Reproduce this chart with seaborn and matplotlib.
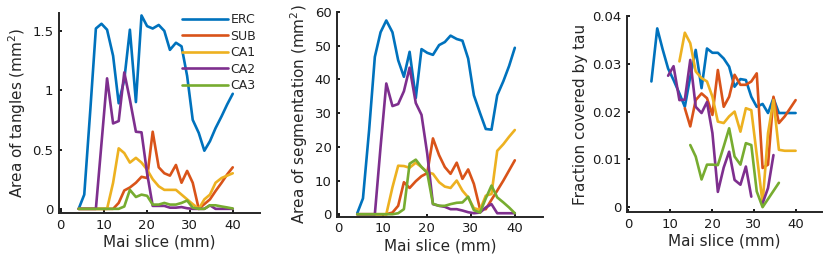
import matplotlib
matplotlib.use('Agg')
import matplotlib.pyplot as plt
import numpy as np
import pandas as pd
import seaborn as sns

nan = np.nan

# 슬라이스 위치 (mm)
slice_mm = [4.2, 5.5, 6.9, 8.2, 9.5, 10.8, 12.2, 13.5, 14.8, 16.1, 17.5, 18.8, 20.1, 21.4,
            22.8, 24.1, 25.4, 26.8, 28.1, 29.4, 30.7, 32.1, 33.4, 34.7, 36.0, 37.4, 38.7, 40.0]
regions = ['ERC', 'SUB', 'CA1', 'CA2', 'CA3']
colors = ['#0072BD', '#D95319', '#EDB120', '#7E2F8E', '#77AC30']

# area of tangles (mm^2)
tangle_erc = [0, 0.12, 0.83, 1.52, 1.56, 1.51, 1.29, 0.89, 1.09, 1.51, 0.90, 1.63, 1.54, 1.52,
              1.55, 1.50, 1.34, 1.40, 1.37, 1.12, 0.75, 0.64, 0.49, 0.57, 0.68, 0.78, 0.88, 0.97]
tangle_sub = [0, 0, 0, 0, 0, 0, 0, 0.05, 0.155, 0.18, 0.22, 0.27, 0.26, 0.65,
              0.35, 0.30, 0.28, 0.37, 0.22, 0.32, 0.22, 0, 0.04, 0.08, 0.15, 0.22, 0.29, 0.35]
tangle_ca1 = [0, 0, 0, 0, 0, 0, 0.22, 0.51, 0.47, 0.39, 0.43, 0.39, 0.33, 0.25,
              0.19, 0.16, 0.16, 0.16, 0.12, 0.08, 0.04, 0, 0.08, 0.12, 0.22, 0.26, 0.28, 0.30]
tangle_ca2 = [0, 0, 0, 0, 0.55, 1.10, 0.72, 0.74, 1.15, 0.92, 0.65, 0.645, 0.30, 0.025,
              0.025, 0.025, 0.01, 0.01, 0.015, 0.005, 0, 0, 0, 0.03, 0, 0, 0, 0]
tangle_ca3 = [0, 0, 0, 0, 0, 0, 0, 0, 0.02, 0.16, 0.10, 0.12, 0.11, 0.036,
              0.036, 0.05, 0.036, 0.036, 0.05, 0.07, 0.01, 0, 0, 0.03, 0.03, 0.02, 0.012, 0.003]

# area of segmentation (mm^2)
seg_erc = [0.3, 4.7, 25, 46.7, 54, 57.5, 54, 45.7, 40.8, 48.2, 34.5, 49, 47.9, 47.3,
           50.2, 51.1, 53, 52, 51.5, 46.2, 35.3, 30, 25.3, 25.1, 35.3, 39.5, 44, 49.4]
seg_sub = [0, 0, 0, 0, 0, 0, 0.5, 2.5, 9.5, 7.8, 9.8, 11.3, 12.2, 22.5,
           17.5, 14, 12, 15.3, 10.5, 13.3, 9, 1.5, 1.5, 4.3, 7, 10, 13, 16]
seg_ca1 = [0, 0, 0, 0, 0, 0, 8, 14.4, 14.3, 13.8, 15.3, 14, 12.5, 12,
           9.5, 8.2, 7.8, 10, 7, 5, 1.8, 1.3, 5.5, 6, 18.8, 20.8, 23, 25]
seg_ca2 = [0, 0, 0, 0, 20, 38.8, 32.1, 32.7, 36.5, 43.5, 33, 29.5, 18, 3,
           2.5, 2.2, 1.5, 1.5, 1.1, 0.6, 0.3, 0.5, 2, 3, 0.3, 0.3, 0.3, 0.3]
seg_ca3 = [0, 0, 0, 0, 0, 0, 0, 0.3, 1.5, 15, 16.2, 14, 12.3, 3.1,
           2.5, 2.5, 3, 3.4, 3.5, 5.2, 1.2, 0.5, 4.7, 8.5, 5, 3.5, 2, 0.3]

# fraction covered by tau
frac_erc = [nan, 0.0263, 0.0374, 0.033, 0.029, 0.0266, 0.0238, 0.021, 0.0273, 0.0329, 0.0249, 0.0332, 0.0323, 0.0323,
            0.0311, 0.0294, 0.0252, 0.0268, 0.0266, 0.0231, 0.021, 0.0216, 0.0197, 0.0228, 0.0197, 0.0197, 0.0197, 0.0197]
frac_sub = [nan, nan, nan, nan, nan, nan, nan, 0.0207, 0.0169, 0.0224, 0.0238, 0.0228, 0.0193, 0.0287,
            0.021, 0.0231, 0.0277, 0.0256, 0.0256, 0.0263, 0.028, 0.0082, 0.0089, 0.0231, 0.0176, 0.019, 0.0207, 0.0224]
frac_ca1 = [nan, nan, nan, nan, nan, nan, 0.0305, 0.0365, 0.0343, 0.0284, 0.027, 0.0263, 0.0231, 0.0179,
            0.0176, 0.019, 0.02, 0.0158, 0.0207, 0.0203, 0.011, 0.0008, 0.0155, 0.0224, 0.012, 0.0118, 0.0118, 0.0118]
frac_ca2 = [nan, nan, nan, nan, 0.0275, 0.0295, 0.0224, 0.0225, 0.0308, 0.021, 0.0197, 0.022, 0.0155, 0.0032,
            0.0083, 0.0116, 0.0057, 0.0047, 0.0085, 0.0022, nan, 0.0008, 0.004, 0.0109, nan, nan, nan, nan]
frac_ca3 = [nan, nan, nan, nan, nan, nan, nan, nan, 0.013, 0.0106, 0.0058, 0.0089, 0.0089, 0.0088,
            0.0127, 0.0165, 0.0106, 0.0089, 0.0134, 0.013, 0.0033, 0.0, 0.0017, 0.0034, 0.0051, nan, nan, nan]


def long_df(series):
    # NaN 에서 선을 끊기 위해 seg 번호를 붙임
    rows = []
    for name, vals in zip(regions, series):
        seg = 0
        for xv, yv in zip(slice_mm, vals):
            if np.isnan(yv):
                seg += 1
                continue
            rows.append((name, f'{name}_{seg}', xv, yv))
    return pd.DataFrame(rows, columns=['region', 'seg', 'x', 'y'])


sns.set_style('ticks')
plt.rcParams['font.family'] = ['DejaVu Sans']
plt.rcParams['axes.linewidth'] = 1.4

fig = plt.figure(figsize=(8.29, 2.62), dpi=100)
ax1 = fig.add_axes([0.071, 0.187, 0.243, 0.763])
ax2 = fig.add_axes([0.4065, 0.172, 0.2485, 0.782])
ax3 = fig.add_axes([0.756, 0.191, 0.236, 0.748])

panels = [
    (ax1, [tangle_erc, tangle_sub, tangle_ca1, tangle_ca2, tangle_ca3], 'Area of tangles (mm$^2$)',
     (-0.035, 1.65), [0, 0.5, 1, 1.5], ['0', '0.5', '1', '1.5']),
    (ax2, [seg_erc, seg_sub, seg_ca1, seg_ca2, seg_ca3], 'Area of segmentation (mm$^2$)',
     (-0.8, 60), [0, 10, 20, 30, 40, 50, 60], ['0', '10', '20', '30', '40', '50', '60']),
    (ax3, [frac_erc, frac_sub, frac_ca1, frac_ca2, frac_ca3], 'Fraction covered by tau',
     (-0.001, 0.04), [0, 0.01, 0.02, 0.03, 0.04], ['0', '0.01', '0.02', '0.03', '0.04']),
]

for i, (ax, series, ylab, ylim, yt, ytl) in enumerate(panels):
    df = long_df(series)
    sns.lineplot(data=df, x='x', y='y', hue='region', units='seg', estimator=None,
                 hue_order=regions, palette=colors, linewidth=1.9, ax=ax, legend=(i == 0))
    ax.set_xlim(-0.4, 46.4)
    ax.set_ylim(*ylim)
    ax.set_xticks([0, 10, 20, 30, 40])
    ax.set_yticks(yt)
    ax.set_yticklabels(ytl)
    ax.set_xlabel('Mai slice (mm)', fontsize=11, labelpad=2)
    ax.set_ylabel(ylab, fontsize=11, labelpad=3)
    ax.tick_params(direction='in', length=2.5, width=1.4, labelsize=9.5, pad=4, colors='#1a1a1a')
    sns.despine(ax=ax)

# 범례
h, l = ax1.get_legend_handles_labels()
ax1.legend(h, l, loc='upper left', bbox_to_anchor=(0.61, 1.0), frameon=False, fontsize=9,
           handlelength=3.7, handletextpad=0.2, labelspacing=0.28, borderpad=0, borderaxespad=0)

plt.savefig('out.png', dpi=100)
